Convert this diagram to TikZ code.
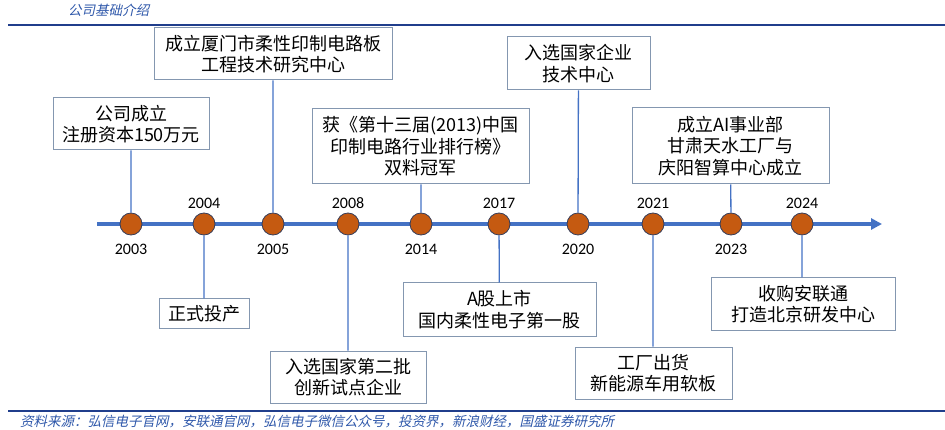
\documentclass[tikz,border=0pt]{standalone}
\usepackage{fontspec}
\usepackage{tikz}
\usetikzlibrary{positioning, arrows, arrows.meta}
\setmainfont{Carlito}
\newfontfamily\cjk{Noto Sans CJK SC}
\newfontfamily\cjkit[FakeSlant=0.22]{Noto Sans CJK SC}
\definecolor{lineblue}{RGB}{68,114,196}
\definecolor{rulebound}{RGB}{32,62,140}
\definecolor{noteblue}{RGB}{47,88,170}
\definecolor{dotfill}{RGB}{197,90,17}
\definecolor{dotedge}{RGB}{55,62,90}
\definecolor{boxedge}{RGB}{132,151,176}
\tikzset{x=1pt,y=-1pt,
  year/.style={circle,fill=dotfill,draw=dotedge,line width=0.8pt,minimum size=22pt,inner sep=0pt},
  yearlabel/.style={font=\fontsize{16}{18}\selectfont},
  event/.style={draw=boxedge,line width=1pt,fill=white,align=center,inner sep=0pt,
    font=\cjk\fontsize{18}{21.5}\selectfont},
  stem/.style={draw=lineblue,line width=1.3pt},
  note/.style={text=noteblue,font=\cjkit\fontsize{13.5}{15}\selectfont,inner sep=0pt}}

\begin{document}
\begin{tikzpicture}
\useasboundingbox (0,0) rectangle (945,430);
% header and footer
\node[note, anchor=west] (head) at (68,10) {公司基础介绍};
\coordinate (topl) at (8,25); \coordinate (topr) at (945,25);
\coordinate (botl) at (8,411); \coordinate (botr) at (945,411);
\draw[rulebound, line width=1.4pt] (topl) -- (topr) (botl) -- (botr);
\node[note, anchor=west] (src) at (20,421) {资料来源：弘信电子官网，安联通官网，弘信电子微信公众号，投资界，新浪财经，国盛证券研究所};
% timeline
\coordinate (tstart) at (97,224);
\coordinate (tend) at (882,224);
\draw[lineblue, line width=4pt, -{Triangle[length=11pt,width=11pt]}] (tstart) -- (tend);
% events above
\node[event, minimum width=156pt, minimum height=52pt] (b2003) at (131,124) {公司成立\\注册资本150万元};
\node[event, minimum width=238pt, minimum height=52pt] (b2005) at (273,54) {成立厦门市柔性印制电路板\\工程技术研究中心};
\node[event, minimum width=217pt, minimum height=75pt] (b2014) at (420.5,146.5) {获《第十三届(2013)中国\\印制电路行业排行榜》\\双料冠军};
\node[event, minimum width=143pt, minimum height=53pt] (b2020) at (578.5,63.5) {入选国家企业\\技术中心};
\node[event, minimum width=197pt, minimum height=76pt] (b2023) at (730.5,146) {成立AI事业部\\甘肃天水工厂与\\庆阳智算中心成立};
% events below
\node[event, minimum width=90pt, minimum height=29pt] (b2004) at (204,313.5) {正式投产};
\node[event, minimum width=156pt, minimum height=52pt] (b2008) at (348,377) {入选国家第二批\\创新试点企业};
\node[event, minimum width=193pt, minimum height=53pt] (b2017) at (499.5,309.5) {A股上市\\国内柔性电子第一股};
\node[event, minimum width=157pt, minimum height=52pt] (b2021) at (653.5,373) {工厂出货\\新能源车用软板};
\node[event, minimum width=184pt, minimum height=52pt] (b2024) at (803,304) {收购安联通\\打造北京研发中心};
% dots
\node[year] (c2003) at (131,224) {};
\node[year] (c2004) at (204,224) {};
\node[year] (c2005) at (273,224) {};
\node[year] (c2008) at (348,224) {};
\node[year] (c2014) at (421,224) {};
\node[year] (c2017) at (499,224) {};
\node[year] (c2020) at (578,224) {};
\node[year] (c2021) at (653,224) {};
\node[year] (c2023) at (731,224) {};
\node[year] (c2024) at (802,224) {};
\draw[stem] (b2003) -- (c2003) (b2005) -- (c2005) (b2014.south -| c2014) -- (c2014)
  (b2020) -- (c2020) (b2023) -- (c2023) (b2004) -- (c2004) (b2008) -- (c2008)
  (b2017) -- (c2017) (b2021.north -| c2021) -- (c2021) (b2024.north -| c2024) -- (c2024);
% years
\node[yearlabel, below=5pt of c2003] (y2003) {2003};
\node[yearlabel, above=0pt of c2004] (y2004) {2004};
\node[yearlabel, below=5pt of c2005] (y2005) {2005};
\node[yearlabel, above=0pt of c2008] (y2008) {2008};
\node[yearlabel, below=5pt of c2014] (y2014) {2014};
\node[yearlabel, above=0pt of c2017] (y2017) {2017};
\node[yearlabel, below=5pt of c2020] (y2020) {2020};
\node[yearlabel, above=0pt of c2021] (y2021) {2021};
\node[yearlabel, below=5pt of c2023] (y2023) {2023};
\node[yearlabel, above=0pt of c2024] (y2024) {2024};
\end{tikzpicture}
\end{document}
